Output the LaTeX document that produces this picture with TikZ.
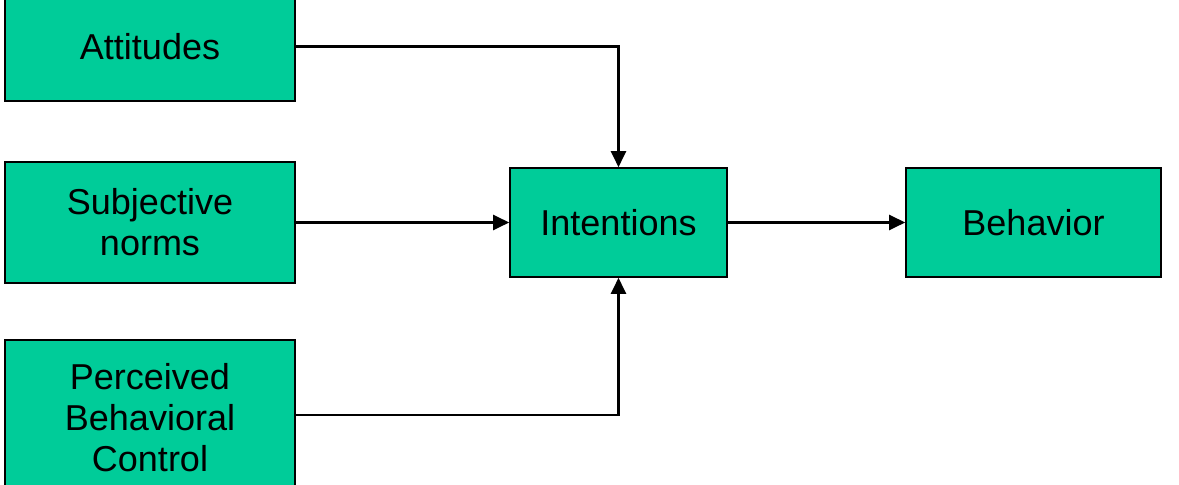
\documentclass[tikz,border=0pt]{standalone}
\usepackage{fontspec}
\setmainfont{Liberation Sans}
\usetikzlibrary{arrows.meta,positioning,calc}
\definecolor{boxgreen}{RGB}{0,204,153}

\begin{document}
\begin{tikzpicture}[x=0.5pt,y=-0.5pt,
    box/.style={draw,fill=boxgreen,line width=0.8pt,align=center,inner sep=0pt,
        font=\fontsize{18}{20.5}\selectfont},
    link/.style={-{Triangle[length=8pt,width=7.5pt]},line width=1.1pt}]
    \useasboundingbox (0,0) rectangle (1179,485);
    \node[box,minimum width=145pt,minimum height=54.5pt] (att) at (150,46.5) {Attitudes};
    \node[box,minimum width=145pt,minimum height=60.5pt] (sn) at (150,222.5) {Subjective\\norms};
    \node[box,minimum width=145pt,minimum height=78pt] (pbc) at (150,418) {Perceived\\Behavioral\\Control};
    \node[box,minimum width=108.5pt,minimum height=54.5pt] (int) at (618.5,222.5) {Intentions};
    \node[box,minimum width=127.5pt,minimum height=54.5pt] (beh) at (1033.5,222.5) {Behavior};
    \draw[link] (att.east) -| (int.north);
    \draw[link] (sn.east) -- (int.west);
    \draw[link] ([yshift=1.5pt]pbc.east) -| (int.south);
    \draw[link] (int.east) -- (beh.west);
\end{tikzpicture}
\end{document}
